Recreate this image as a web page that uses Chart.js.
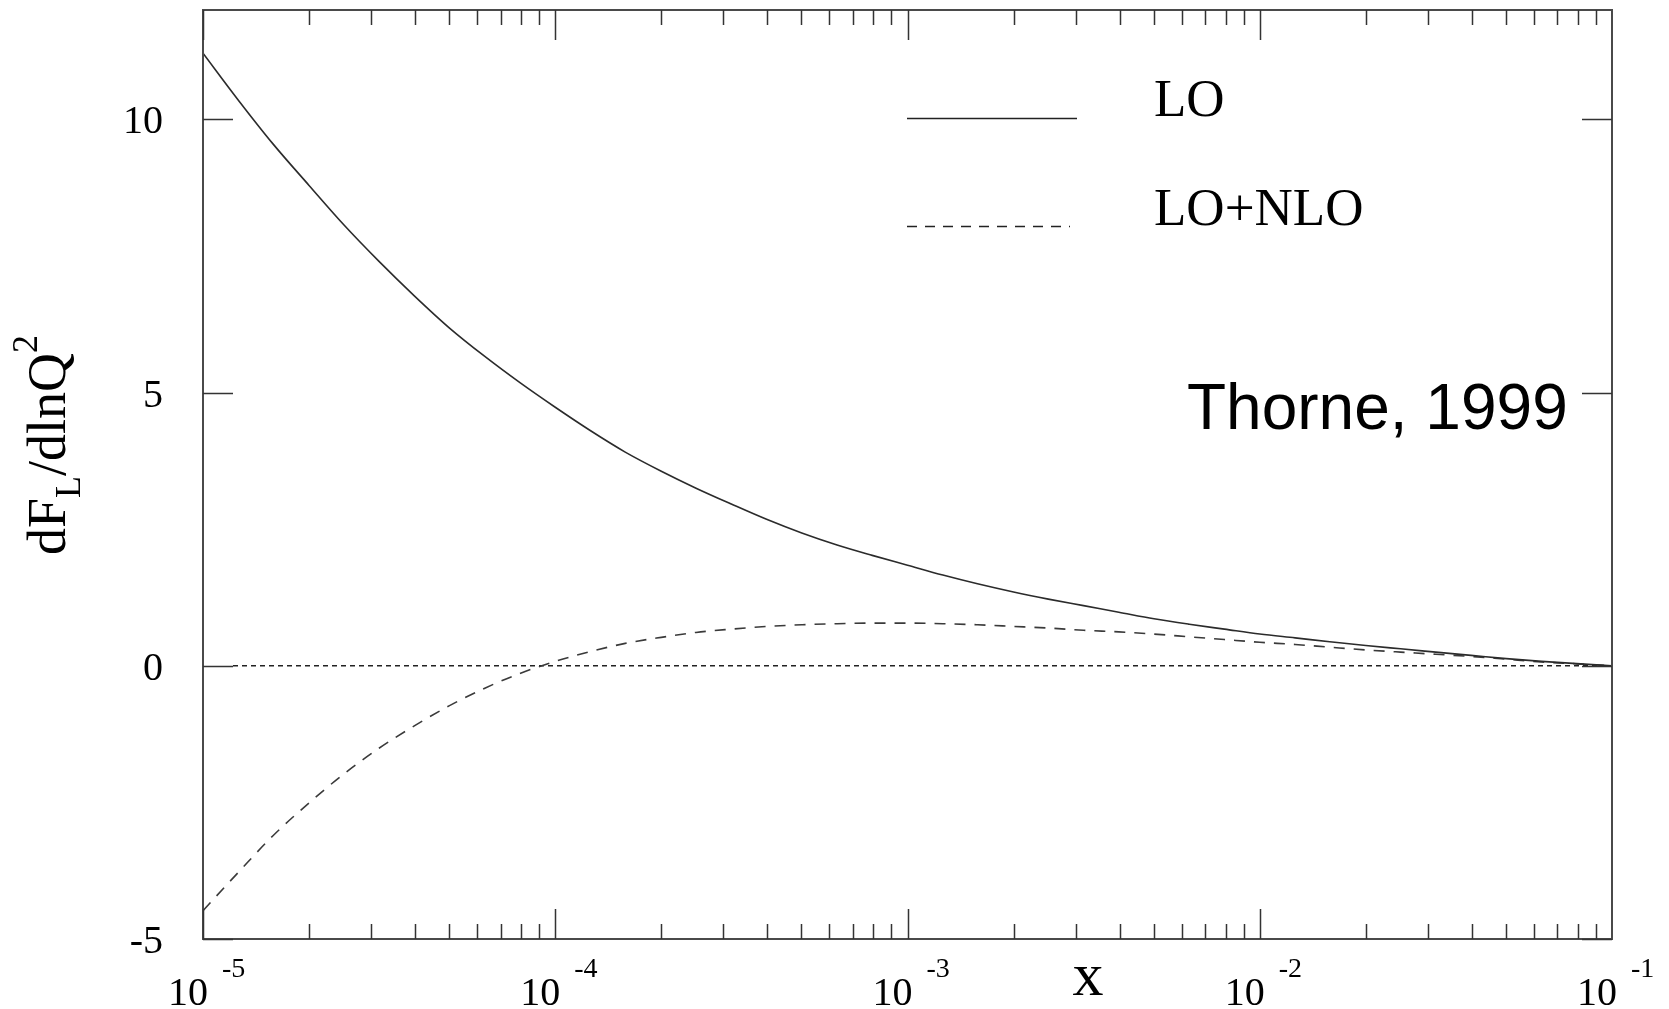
<!DOCTYPE html>
<html>
<head>
<meta charset="utf-8">
<script src="https://cdn.jsdelivr.net/npm/chart.js@4/dist/chart.umd.min.js"></script>
<style>
  html, body { margin: 0; padding: 0; background: #ffffff; }
  #wrap { width: 1669px; height: 1009px; position: relative; }
</style>
</head>
<body>
<div id="wrap"><canvas id="chart" width="1669" height="1009"></canvas></div>
<script>
// Bjorken x sample points (0.1 decade apart)
const xValues = [
  1.00e-5, 1.26e-5, 1.58e-5, 2.00e-5, 2.51e-5, 3.16e-5, 3.98e-5, 5.01e-5, 6.31e-5, 7.94e-5,
  1.00e-4, 1.26e-4, 1.58e-4, 2.00e-4, 2.51e-4, 3.16e-4, 3.98e-4, 5.01e-4, 6.31e-4, 7.94e-4,
  1.00e-3, 1.26e-3, 1.58e-3, 2.00e-3, 2.51e-3, 3.16e-3, 3.98e-3, 5.01e-3, 6.31e-3, 7.94e-3,
  1.00e-2, 1.26e-2, 1.58e-2, 2.00e-2, 2.51e-2, 3.16e-2, 3.98e-2, 5.01e-2, 6.31e-2, 7.94e-2,
  1.00e-1
];

// dF_L/dlnQ^2 at leading order
const loValues = [
  11.21, 10.35, 9.55, 8.79, 8.07, 7.40, 6.77, 6.18, 5.66, 5.18,
  4.73, 4.30, 3.91, 3.56, 3.25, 2.96, 2.68, 2.43, 2.21, 2.02,
  1.84, 1.66, 1.50, 1.35, 1.22, 1.10, 0.98, 0.86, 0.76, 0.67,
  0.58, 0.51, 0.44, 0.37, 0.31, 0.25, 0.19, 0.13, 0.08, 0.04,
  0.00
];

// dF_L/dlnQ^2 with the NLO correction included
const nloValues = [
  -4.48, -3.78, -3.11, -2.51, -1.98, -1.51, -1.10, -0.73, -0.41, -0.14,
  0.08, 0.26, 0.41, 0.52, 0.61, 0.67, 0.72, 0.75, 0.77, 0.78,
  0.78, 0.77, 0.75, 0.72, 0.69, 0.65, 0.62, 0.58, 0.53, 0.48,
  0.43, 0.39, 0.34, 0.29, 0.25, 0.21, 0.17, 0.12, 0.07, 0.035,
  0.00
];

const seriesNames = ['LO', 'LO+NLO'];
const xMajorTicks = [1e-5, 1e-4, 1e-3, 1e-2, 1e-1];
const xTickExponents = ['-5', '-4', '-3', '-2', '-1'];
const yTicks = [-5, 0, 5, 10];
const yTickLabels = ['-5', '0', '5', '10'];
const xTitle = 'x';
const yTitleParts = ['dF', 'L', '/dlnQ', '2'];
const noteText = 'Thorne, 1999';

const INK = '#333333';
const SERIF = '"Liberation Serif", "Times New Roman", serif';
const SANS = '"Liberation Sans", Arial, sans-serif';
const NLO_DASH = [11, 9];

function toPoints(ys) {
  return xValues.map((x, i) => ({ x: x, y: ys[i] }));
}

// Frame, ticks, labels, legend and note drawn around the plot area
const decorations = {
  id: 'decorations',
  beforeDatasetsDraw(chart) {
    const { ctx, chartArea: a, scales: { y } } = chart;
    const y0 = y.getPixelForValue(0);
    ctx.save();
    ctx.strokeStyle = '#222222';
    ctx.lineWidth = 1.3;
    ctx.setLineDash([5, 4]);
    ctx.beginPath();
    ctx.moveTo(a.left + 30, y0);
    ctx.lineTo(a.right, y0);
    ctx.stroke();
    ctx.restore();
  },
  afterDraw(chart) {
    const { ctx, chartArea: a, scales: { x, y } } = chart;
    ctx.save();

    // frame
    ctx.strokeStyle = '#4a4a4a';
    ctx.lineWidth = 2;
    ctx.strokeRect(a.left, a.top, a.right - a.left, a.bottom - a.top);

    // x ticks, top and bottom
    ctx.strokeStyle = INK;
    ctx.lineWidth = 1.5;
    ctx.beginPath();
    for (let d = -5; d < -1; d++) {
      for (let k = 1; k <= 9; k++) {
        const v = k * Math.pow(10, d);
        const px = Math.round(x.getPixelForValue(v)) + 0.5;
        const len = k === 1 ? 30 : 15;
        ctx.moveTo(px, a.bottom); ctx.lineTo(px, a.bottom - len);
        ctx.moveTo(px, a.top); ctx.lineTo(px, a.top + len);
      }
    }
    // y ticks, left and right
    yTicks.forEach(v => {
      const py = Math.round(y.getPixelForValue(v)) + 0.5;
      ctx.moveTo(a.left, py); ctx.lineTo(a.left + 30, py);
      ctx.moveTo(a.right, py); ctx.lineTo(a.right - 30, py);
    });
    ctx.stroke();

    // y tick labels
    ctx.fillStyle = '#000000';
    ctx.font = '40px ' + SERIF;
    ctx.textAlign = 'right';
    ctx.textBaseline = 'alphabetic';
    yTicks.forEach((v, i) => {
      ctx.fillText(yTickLabels[i], a.left - 40, y.getPixelForValue(v) + 14);
    });

    // x tick labels: 10 with a raised exponent
    xMajorTicks.forEach((v, i) => {
      const px = x.getPixelForValue(v);
      ctx.font = '40px ' + SERIF;
      ctx.textAlign = 'right';
      ctx.fillText('10', px + 5, 1005);
      ctx.font = '28px ' + SERIF;
      ctx.textAlign = 'left';
      ctx.fillText(xTickExponents[i], px + 19, 977);
    });

    // x axis title
    ctx.font = '62px ' + SERIF;
    ctx.textAlign = 'center';
    ctx.fillText(xTitle, 1088, 995);

    // y axis title, rotated, with subscript and superscript
    ctx.save();
    ctx.translate(65, 555);
    ctx.rotate(-Math.PI / 2);
    ctx.textAlign = 'left';
    const specs = [
      { t: yTitleParts[0], f: 54, dy: 0 },
      { t: yTitleParts[1], f: 36, dy: 15 },
      { t: yTitleParts[2], f: 54, dy: 0 },
      { t: yTitleParts[3], f: 36, dy: -28 }
    ];
    let cx = 0;
    specs.forEach(s => {
      ctx.font = s.f + 'px ' + SERIF;
      ctx.fillText(s.t, cx, s.dy);
      cx += ctx.measureText(s.t).width;
    });
    ctx.restore();

    // legend
    ctx.strokeStyle = '#222222';
    ctx.lineWidth = 1.6;
    ctx.beginPath();
    ctx.moveTo(907, 118.5); ctx.lineTo(1077, 118.5);
    ctx.stroke();
    ctx.setLineDash([10, 8]);
    ctx.beginPath();
    ctx.moveTo(907, 226.5); ctx.lineTo(1070, 226.5);
    ctx.stroke();
    ctx.setLineDash([]);
    ctx.font = '53px ' + SERIF;
    ctx.textAlign = 'left';
    ctx.fillText(seriesNames[0], 1154, 116);
    ctx.fillText(seriesNames[1], 1154, 225);

    // citation note
    ctx.font = '64px ' + SANS;
    ctx.fillText(noteText, 1187, 429);

    ctx.restore();
  }
};

new Chart(document.getElementById('chart'), {
  type: 'line',
  data: {
    datasets: [
      {
        label: seriesNames[0],
        data: toPoints(loValues),
        borderColor: '#2b2b2b',
        borderWidth: 1.6,
        pointRadius: 0,
        cubicInterpolationMode: 'monotone',
        fill: false
      },
      {
        label: seriesNames[1],
        data: toPoints(nloValues),
        borderColor: '#3a3a3a',
        borderWidth: 1.6,
        borderDash: NLO_DASH,
        pointRadius: 0,
        cubicInterpolationMode: 'monotone',
        fill: false
      }
    ]
  },
  options: {
    responsive: false,
    maintainAspectRatio: false,
    animation: false,
    devicePixelRatio: 1,
    layout: { padding: { left: 203, right: 57, top: 10, bottom: 70 } },
    plugins: { legend: { display: false }, tooltip: { enabled: false } },
    events: [],
    scales: {
      x: { type: 'logarithmic', min: 1e-5, max: 1e-1, display: false },
      y: { type: 'linear', min: -5, max: 12, display: false }
    }
  },
  plugins: [decorations]
});
</script>
</body>
</html>
